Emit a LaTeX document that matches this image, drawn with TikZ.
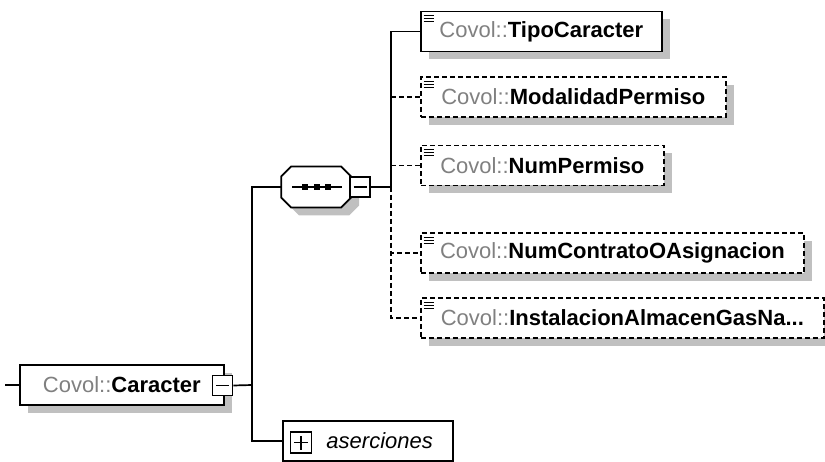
\documentclass[tikz,border=0pt]{standalone}
\usepackage{fontspec}
\setmainfont{Liberation Sans}
\usetikzlibrary{shadows}
\definecolor{nsgray}{RGB}{128,128,128}
\definecolor{shadegray}{RGB}{192,192,192}
\newcommand\covol{\textcolor{nsgray}{Covol::}}

\begin{document}
\begin{tikzpicture}[x=1pt, y=-1pt, line width=1.7pt, font=\fontsize{22}{26}\selectfont]
  \tikzstyle{elem} = [rectangle, draw, fill=white, minimum height=40pt, inner sep=0pt, anchor=west,
                      drop shadow={shadow xshift=8pt, shadow yshift=-8pt, fill=shadegray, opacity=1}]
  \tikzstyle{optelem} = [elem, dash pattern=on 5pt off 3pt]
  \tikzstyle{optline} = [dash pattern=on 5pt off 3pt]
  \tikzstyle{seqbox} = [rectangle, minimum width=70pt, minimum height=41pt, inner sep=0pt]
  \tikzstyle{groupbox} = [rectangle, draw, fill=white, minimum height=40pt, anchor=west,
                          text width=130pt, align=right, inner xsep=20pt, inner ysep=0pt]
  \tikzstyle{toggle} = [rectangle, draw, fill=white, minimum size=20pt, inner sep=0pt]
  \tikzstyle{minus} = [toggle, path picture={\draw ([xshift=-6.5pt]path picture bounding box.center) -- ([xshift=6.5pt]path picture bounding box.center);}]
  \tikzstyle{plus} = [toggle, minimum size=21pt, path picture={
      \draw ([xshift=-7pt]path picture bounding box.center) -- ([xshift=7pt]path picture bounding box.center);
      \draw ([yshift=-7pt]path picture bounding box.center) -- ([yshift=7pt]path picture bounding box.center);}]
\useasboundingbox (0,0) rectangle (825,462);
% root element and its group
\node[elem, minimum width=204pt] (car) at (19,385) {\covol\textbf{Caracter}};
\node[minus] (carmin) at (222.5,385.5) {};
\node[seqbox] (seq) at (317,187) {};
\fill[shadegray] (seq.west) ++(8,8) ++(0,-10.5) -- ++(10,-10) -- ++(50,0) -- ++(10,10) -- ++(0,21)
  -- ++(-10,10) -- ++(-50,0) -- ++(-10,-10) -- cycle;
\filldraw[fill=white] (seq.west) ++(0,-10.5) -- ++(10,-10) -- ++(50,0) -- ++(10,10) -- ++(0,21)
  -- ++(-10,10) -- ++(-50,0) -- ++(-10,-10) -- cycle;
\node[minus] (seqmin) at (360,187) {};
\node[groupbox] (aser) at (282,441) {\textit{aserciones}};
\node[plus] (aserplus) at (301,442.5) {};
% children of the sequence
\node[elem, minimum width=241pt] (tipo) at (420,31.5) {\covol\textbf{TipoCaracter}};
\node[optelem, minimum width=305pt] (modal) at (420,97) {\covol\textbf{ModalidadPermiso}};
\node[optelem, minimum width=243pt] (nump) at (420,165.5) {\covol\textbf{NumPermiso}};
\node[optelem, minimum width=383pt] (numc) at (420,253) {\covol\textbf{NumContratoOAsignacion}};
\node[optelem, minimum width=403pt] (inst) at (420,318) {\covol\textbf{InstalacionAlmacenGasNa...}};
\foreach \n in {tipo,modal,nump,numc,inst}
  \foreach \dy in {5,8,11}
    \draw[line width=1.2pt] ([xshift=3.5pt, yshift=-\dy pt]\n.north west) -- ++(10,0);
% sequence symbol
\draw (seq.center) ++(-25,0) -- ++(50,0);
\foreach \dx in {-12,0,11}
  \fill (seq.center) ++(\dx-3,-3) rectangle ++(6,6);
\coordinate (in) at (5,385);
\coordinate (trunk) at (252,385);
\coordinate (fork) at (391,187);
\draw (in) -- (car.west);
\draw (carmin.east) -- (trunk);
\draw (seq.west) -| (trunk) |- (aser.west);
\draw (seqmin.east) -- (fork) |- (tipo.west);
\draw[optline] (modal.west -| fork) -- (modal.west);
\draw[optline] (nump.west -| fork) -- (nump.west);
\draw[optline] (fork) |- (numc.west);
\draw[optline] (fork) |- (inst.west);
\end{tikzpicture}
\end{document}
